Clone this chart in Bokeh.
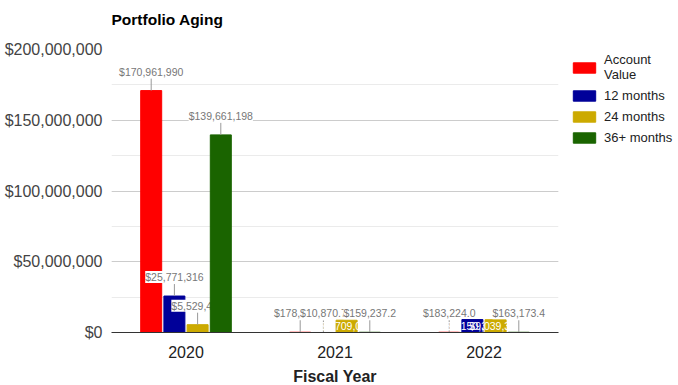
from bokeh.plotting import figure
from bokeh.models import (FactorRange, Range1d, NumeralTickFormatter, SingleIntervalTicker,
                          Legend, LegendItem, ColumnDataSource, Title)
from bokeh.transform import dodge
from bokeh.core.properties import value
from bokeh.embed import file_html
from bokeh.resources import INLINE

years = ["2020", "2021", "2022"]
series = ["Account\nValue", "12 months", "24 months", "36+ months"]
account_value = [170961990, 178560.4, 183224.0]
months_12 = [25771316, 10870.7, 9150321]
months_24 = [5529426, 8709046, 9039312]
months_36 = [139661198, 159237.2, 163173.4]
labels_account = ["$170,961,990", "$178,560.4", "$183,224.0"]
labels_12 = ["$25,771,316", "$10,870.7", "$9,150,321"]
labels_24 = ["$5,529,426", "$8,709,046", "$9,039,312"]
labels_36 = ["$139,661,198", "$159,237.2", "$163,173.4"]
colors = ["#ff0000", "#000099", "#ccaa00", "#1a6400"]

FONT = "Liberation Sans"
Y_MAX = 200e6
FRAME_W, FRAME_H = 447, 283
units_per_px = Y_MAX / FRAME_H
cat_px = FRAME_W / len(years)
pitch = 23.2 / cat_px
bar_w = 21.0 / cat_px


def is_inside(v):
    h = v / units_per_px
    return 11 <= h < 30


p = figure(x_range=FactorRange(*years), y_range=Range1d(0, Y_MAX),
           frame_width=FRAME_W, frame_height=FRAME_H, min_border_left=111, min_border_right=120,
           min_border_top=49, min_border_bottom=50,
           output_backend="svg", toolbar_location=None, tools="")
p.title = None
p.outline_line_color = None
p.background_fill_color = "white"
p.border_fill_color = "white"

# spacer between title and frame, then the title itself
p.add_layout(Title(text=" ", text_font=FONT, text_font_size="16px", standoff=0), "above")
p.add_layout(Title(text="Portfolio Aging", text_font=FONT, text_font_size="15.5px",
                   text_font_style="bold", text_color="#000000", align="left",
                   standoff=6), "above")

yax = p.yaxis[0]
yax.ticker = SingleIntervalTicker(interval=50e6, num_minor_ticks=2)
yax.formatter = NumeralTickFormatter(format="$0,0")
yax.axis_line_color = None
yax.major_tick_line_color = None
yax.minor_tick_line_color = None
yax.major_label_text_font = FONT
yax.major_label_text_font_size = "16px"
yax.major_label_text_color = "#444444"
yax.major_label_standoff = 3

p.ygrid.grid_line_color = "#cccccc"
p.ygrid.minor_grid_line_color = "#ebebeb"
p.xgrid.grid_line_color = None

xax = p.xaxis[0]
xax.axis_line_color = "#333333"
xax.major_tick_line_color = None
xax.minor_tick_line_color = None
xax.major_label_text_font = FONT
xax.major_label_text_font_size = "16px"
xax.major_label_text_color = "#222222"
xax.major_label_standoff = 7
xax.axis_label = "Fiscal Year"
xax.axis_label_text_font = FONT
xax.axis_label_text_font_size = "16px"
xax.axis_label_text_font_style = "bold"
xax.axis_label_text_color = "#222222"
xax.axis_label_standoff = 7

all_vals = [account_value, months_12, months_24, months_36]
all_labels = [labels_account, labels_12, labels_24, labels_36]
legend_items = []
for i, (name, vals, labs, col) in enumerate(zip(series, all_vals, all_labels, colors)):
    off = (i - 1.5) * pitch
    src = ColumnDataSource(dict(year=years, v=vals))
    r = p.vbar(x=dodge("year", off, range=p.x_range), top="v", width=bar_w, source=src,
               fill_color=col, line_color=col, line_width=1)
    legend_items.append(LegendItem(label=name, renderers=[r]))
    out_idx = [k for k, v in enumerate(vals) if not is_inside(v)]
    in_idx = [k for k, v in enumerate(vals) if is_inside(v)]
    if out_idx:
        osrc = ColumnDataSource(dict(
            year=[years[k] for k in out_idx],
            v=[vals[k] for k in out_idx],
            top=[vals[k] + 12 * units_per_px for k in out_idx],
            lab=[labs[k] for k in out_idx]))
        p.segment(x0=dodge("year", off, range=p.x_range), y0="v",
                  x1=dodge("year", off, range=p.x_range), y1="top",
                  source=osrc, line_color="#999999", line_width=1)
        p.text(x=dodge("year", off, range=p.x_range), y="v", text="lab", source=osrc,
               y_offset=-19, text_align="center", text_baseline="middle",
               text_font=value(FONT), text_font_size="10.5px", text_color="#777777",
               background_fill_color="white")
    if in_idx:
        isrc = ColumnDataSource(dict(
            year=[years[k] for k in in_idx],
            mid=[vals[k] / 2 for k in in_idx],
            lab=[labs[k] for k in in_idx]))
        p.text(x=dodge("year", off, range=p.x_range), y="mid", text="lab", source=isrc,
               text_align="center", text_baseline="middle",
               text_font=value(FONT), text_font_size="10.5px", text_color="white")

legend = Legend(items=legend_items, location=(12, 187), orientation="vertical")
legend.label_text_font = FONT
legend.label_text_font_size = "13px"
legend.label_text_color = "#222222"
legend.label_text_line_height = 1.3
legend.label_height = 15
legend.glyph_width = 28
legend.glyph_height = 13
legend.label_standoff = 6
legend.spacing = 6
legend.padding = 0
legend.margin = 0
legend.border_line_color = None
legend.background_fill_alpha = 0
p.add_layout(legend, "right")

open("out.html", "w").write(file_html(p, INLINE))
